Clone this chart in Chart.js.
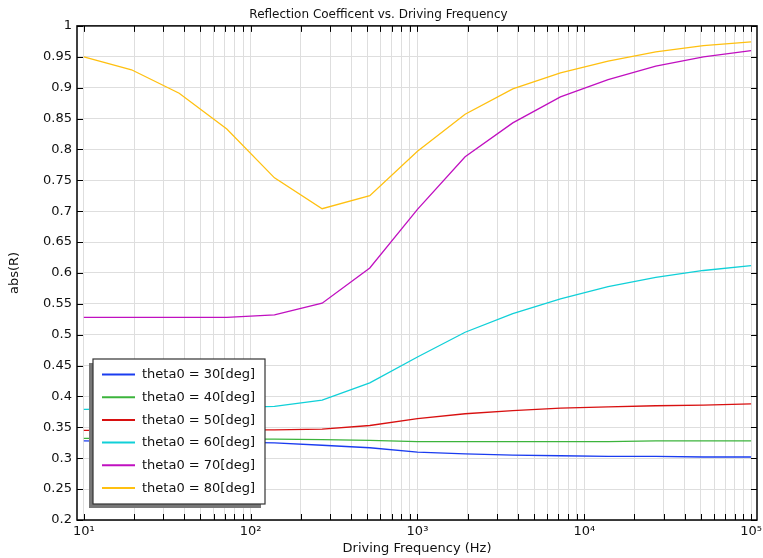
<!DOCTYPE html>
<html>
<head>
<meta charset="utf-8">
<script src="https://cdn.jsdelivr.net/npm/chart.js@4"></script>
<style>
  html, body { margin: 0; padding: 0; background: #fff; }
  #wrap { width: 763px; height: 558px; }
</style>
</head>
<body>
<div id="wrap"><canvas id="chart"></canvas></div>
<script>
// Frecuencias (Hz), 15 puntos logarítmicos de 10 a 1e5
const freqs = [10, 19.31, 37.28, 71.97, 138.95, 268.27, 517.95, 1000, 1930.7, 3727.6, 7196.9, 13895, 26827, 51795, 100000];

const theta30 = [0.328, 0.327, 0.327, 0.326, 0.325, 0.321, 0.317, 0.310, 0.307, 0.305, 0.304, 0.303, 0.303, 0.302, 0.302];
const theta40 = [0.332, 0.332, 0.331, 0.331, 0.331, 0.330, 0.329, 0.327, 0.327, 0.327, 0.327, 0.327, 0.328, 0.328, 0.328];
const theta50 = [0.345, 0.345, 0.346, 0.346, 0.346, 0.347, 0.353, 0.364, 0.372, 0.377, 0.381, 0.383, 0.385, 0.386, 0.388];
const theta60 = [0.379, 0.380, 0.381, 0.382, 0.384, 0.394, 0.422, 0.464, 0.504, 0.534, 0.558, 0.578, 0.593, 0.604, 0.612];
const theta70 = [0.528, 0.528, 0.528, 0.528, 0.532, 0.551, 0.608, 0.703, 0.788, 0.843, 0.885, 0.913, 0.935, 0.950, 0.960];
const theta80 = [0.950, 0.929, 0.891, 0.833, 0.754, 0.704, 0.725, 0.797, 0.857, 0.898, 0.924, 0.943, 0.958, 0.968, 0.974];

const seriesLabels = ['theta0 = 30[deg]', 'theta0 = 40[deg]', 'theta0 = 50[deg]', 'theta0 = 60[deg]', 'theta0 = 70[deg]', 'theta0 = 80[deg]'];
const seriesColors = ['#1a3cf0', '#3cb43c', '#d81010', '#10d0d8', '#c010c0', '#ffc010'];

// Etiquetas del eje x (décadas)
const xDecades = [10, 100, 1000, 10000, 100000];
const xDecadeLabels = ['10¹', '10²', '10³', '10⁴', '10⁵'];

const FONT = 'DejaVu Sans';

// Ticks menores: 1..9 x década
const xTickValues = [];
xDecades.forEach((d, i) => {
    const last = i === xDecades.length - 1;
    for (let m = 1; m <= (last ? 1 : 9); m++) xTickValues.push(d * m);
});

const allSeries = [theta30, theta40, theta50, theta60, theta70, theta80];
const datasets = allSeries.map((vals, i) => ({
    label: seriesLabels[i],
    data: vals.map((v, j) => ({ x: freqs[j], y: v })),
    borderColor: seriesColors[i],
    borderWidth: 1.3,
    pointRadius: 0,
    tension: 0,
    fill: false
}));

// Marco, ticks hacia dentro y leyenda con sombra
const framePlugin = {
    id: 'frame',
    afterDatasetsDraw(chart) {
        const { ctx, chartArea: a, scales } = chart;
        ctx.save();
        ctx.strokeStyle = '#000';
        ctx.lineWidth = 1;
        ctx.beginPath();
        scales.x.ticks.forEach(t => {
            const px = Math.round(scales.x.getPixelForValue(t.value)) + 0.5;
            ctx.moveTo(px, a.bottom); ctx.lineTo(px, a.bottom - 6);
            ctx.moveTo(px, a.top); ctx.lineTo(px, a.top + 6);
        });
        scales.y.ticks.forEach(t => {
            const py = Math.round(scales.y.getPixelForValue(t.value)) + 0.5;
            ctx.moveTo(a.left, py); ctx.lineTo(a.left + 6, py);
            ctx.moveTo(a.right, py); ctx.lineTo(a.right - 6, py);
        });
        ctx.stroke();
        ctx.lineWidth = 1.5;
        ctx.strokeRect(a.left, a.top, a.right - a.left, a.bottom - a.top);

        // leyenda
        const lx = a.left + 16, ly = a.bottom - 161, lw = 172, lh = 145;
        ctx.fillStyle = '#777';
        ctx.fillRect(lx - 4, ly + 4, lw, lh);
        ctx.fillStyle = '#fff';
        ctx.fillRect(lx, ly, lw, lh);
        ctx.strokeStyle = '#333';
        ctx.lineWidth = 1.2;
        ctx.strokeRect(lx, ly, lw, lh);
        ctx.font = '13px "' + FONT + '"';
        ctx.textBaseline = 'middle';
        chart.data.datasets.forEach((ds, i) => {
            const y = ly + 15.5 + i * 22.7;
            ctx.strokeStyle = ds.borderColor;
            ctx.lineWidth = 2;
            ctx.beginPath();
            ctx.moveTo(lx + 9, y); ctx.lineTo(lx + 42, y);
            ctx.stroke();
            ctx.fillStyle = '#111';
            ctx.fillText(ds.label, lx + 49, y + 0.5);
        });
        ctx.restore();
    }
};

new Chart(document.getElementById('chart'), {
    type: 'line',
    data: { datasets },
    options: {
        responsive: true,
        maintainAspectRatio: false,
        animation: false,
        layout: { padding: { left: 0, right: 6, top: 0, bottom: 0 } },
        plugins: {
            legend: { display: false },
            tooltip: { enabled: false },
            title: {
                display: true,
                text: 'Reflection Coefficent vs. Driving Frequency',
                color: '#111',
                font: { family: FONT, size: 12, weight: 'normal' },
                padding: { top: 8, bottom: 3.5 }
            }
        },
        scales: {
            x: {
                type: 'logarithmic',
                min: 9.1,
                max: 108500,
                afterBuildTicks: scale => {
                    scale.ticks = xTickValues.map(v => ({ value: v }));
                },
                afterFit: scale => {
                    scale.height = 38;
                    scale.paddingLeft = 0;
                    scale.paddingRight = 0;
                },
                grid: { color: '#dedede', lineWidth: 1, drawTicks: false },
                border: { display: false },
                ticks: {
                    autoSkip: false,
                    maxRotation: 0,
                    padding: 4,
                    color: '#111',
                    font: { family: FONT, size: 13 },
                    callback: v => {
                        const i = xDecades.indexOf(v);
                        return i >= 0 ? xDecadeLabels[i] : '';
                    }
                },
                title: {
                    display: true,
                    text: 'Driving Frequency (Hz)',
                    color: '#111',
                    font: { family: FONT, size: 13 },
                    padding: { top: 0, bottom: 2 }
                }
            },
            y: {
                min: 0.2,
                max: 1,
                afterFit: scale => {
                    scale.width = 77;
                    scale.paddingTop = 0;
                    scale.paddingBottom = 0;
                },
                grid: { color: '#dedede', lineWidth: 1, drawTicks: false },
                border: { display: false },
                ticks: {
                    stepSize: 0.05,
                    padding: 5,
                    color: '#111',
                    font: { family: FONT, size: 13 },
                    callback: v => String(+v.toFixed(2))
                },
                title: {
                    display: true,
                    text: 'abs(R)',
                    color: '#111',
                    font: { family: FONT, size: 13 },
                    padding: { top: 7, bottom: 0 }
                }
            }
        }
    },
    plugins: [framePlugin]
});
</script>
</body>
</html>
